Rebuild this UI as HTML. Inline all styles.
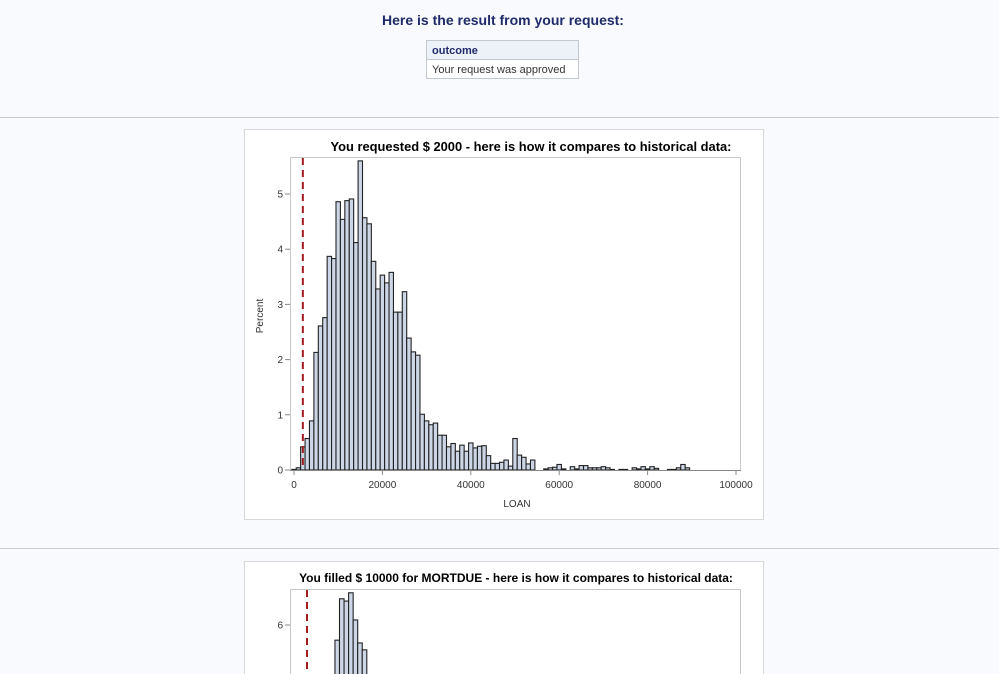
<!DOCTYPE html>
<html><head><meta charset="utf-8"><style>
html,body{margin:0;padding:0;background:#f9fafd;width:999px;height:674px;overflow:hidden;font-family:"Liberation Sans",sans-serif}
svg{display:block;overflow:hidden}
</style></head><body>
<svg width="999" height="674" viewBox="0 0 999 674" xmlns="http://www.w3.org/2000/svg">
<text x="503" y="25" text-anchor="middle" font-size="14" font-weight="bold" fill="#1f2a6b">Here is the result from your request:</text>
<g>
<rect x="426.5" y="40.5" width="152" height="38" fill="#fff" stroke="#c3c7cf"/>
<rect x="427" y="41" width="151" height="18" fill="#edf1f8"/>
<line x1="426.5" y1="59.5" x2="578.5" y2="59.5" stroke="#c3c7cf"/>
<text x="432" y="54" font-size="11" font-weight="bold" fill="#1f2a6b">outcome</text>
<text x="432" y="73" font-size="11" fill="#333">Your request was approved</text>
</g>
<line x1="0" y1="117.5" x2="999" y2="117.5" stroke="#c8cbd2"/>
<line x1="0" y1="548.5" x2="999" y2="548.5" stroke="#c8cbd2"/>
<rect x="244.5" y="129.5" width="519" height="390" fill="#fff" stroke="#d6d8dc"/>
<rect x="244.5" y="561.5" width="519" height="113" fill="#fff" stroke="#d6d8dc"/>
<g id="c1"></g>
<g id="c2"></g>
</svg>
<script>
// Chart 1: LOAN histogram, bins of 1000 centered at i*1000
const loanPercent = [0.01,0.04,0.42,0.57,0.89,2.13,2.61,2.76,3.87,3.83,4.86,4.54,4.88,4.91,4.12,5.6,4.57,4.46,3.78,3.28,3.53,3.39,3.58,2.86,2.86,3.23,2.39,2.14,2.08,1.01,0.89,0.82,0.85,0.63,0.63,0.42,0.48,0.34,0.45,0.34,0.49,0.40,0.43,0.44,0.26,0.12,0.12,0.14,0.18,0.07,0.57,0.27,0.23,0.11,0.18,0,0,0.02,0.04,0.05,0.1,0.02,0,0.06,0.02,0.08,0.08,0.04,0.04,0.04,0.06,0.04,0.01,0,0.01,0.01,0,0.04,0.02,0.06,0.02,0.06,0.03,0,0,0.01,0.01,0.04,0.1,0.04,0,0,0,0,0,0,0,0,0,0];
const loanBinWidth = 1000;
const loanXTicks = [0,20000,40000,60000,80000,100000];
const loanYTicks = [0,1,2,3,4,5];
const loanRequested = 2000;
// Chart 2: MORTDUE (partially visible)
const mortPercent = [5.67,6.57,6.52,6.70,6.11,5.61,5.46];
const mortBinStart = 31500;
const mortBinWidth = 3500;
const mortYTicks = [6];
const mortFilled = 10000;

const NS='http://www.w3.org/2000/svg';
function mk(p,tag,a){const e=document.createElementNS(NS,tag);for(const k in a)e.setAttribute(k,a[k]);p.appendChild(e);return e;}

(function(){
const g=document.getElementById('c1');
const x=v=>294+v*0.00442, y=v=>470-v*55.2;
const t=mk(g,'text',{x:531,y:151,'text-anchor':'middle','font-size':12.9,'font-weight':'bold',fill:'#000'});t.textContent='You requested $ 2000 - here is how it compares to historical data:';


const fr=mk(g,'rect',{x:290.5,y:157.5,width:450,height:313,fill:'none',stroke:'#c8c8c8'});


loanPercent.forEach((v,i)=>{
 const c=i*loanBinWidth;
 const r=mk(g,'rect',{x:x(c-loanBinWidth/2),y:y(v),width:x(loanBinWidth)-x(0),height:y(0)-y(v),fill:'#ccd6e6',stroke:'#222','stroke-width':1.1});
 
 
});
const ax=mk(g,'line',{x1:290,y1:470.5,x2:741,y2:470.5,stroke:'#888'});


loanXTicks.forEach(v=>{
 mk(g,'line',{x1:x(v),y1:470,x2:x(v),y2:475,stroke:'#888'});
 const l=mk(g,'text',{x:x(v),y:488,'text-anchor':'middle','font-size':10,fill:'#333'});l.textContent=v;
 
 
});
loanYTicks.forEach(v=>{
 mk(g,'line',{x1:285,y1:y(v),x2:290,y2:y(v),stroke:'#888'});
 const l=mk(g,'text',{x:283,y:y(v)+3.5,'text-anchor':'end','font-size':10,fill:'#333'});l.textContent=v;
 
 
});
const xl=mk(g,'text',{x:517,y:507,'text-anchor':'middle','font-size':10,fill:'#333'});xl.textContent='LOAN';


const yl=mk(g,'text',{x:0,y:0,'text-anchor':'middle','font-size':10,fill:'#333',transform:'translate(263,316) rotate(-90)'});yl.textContent='Percent';


const rl=mk(g,'line',{x1:x(loanRequested),y1:158,x2:x(loanRequested),y2:470,stroke:'#a51c1c','stroke-width':2,'stroke-dasharray':'7,5'});


})();

(function(){
const g=document.getElementById('c2');
const x=v=>294+v*0.0013, y=v=>901-v*46;
const t=mk(g,'text',{x:516,y:582,'text-anchor':'middle','font-size':12,'font-weight':'bold',fill:'#000'});t.textContent='You filled $ 10000 for MORTDUE - here is how it compares to historical data:';


const fr=mk(g,'rect',{x:290.5,y:589.5,width:450,height:200,fill:'none',stroke:'#c8c8c8'});


mortPercent.forEach((v,i)=>{
 const s=mortBinStart+i*mortBinWidth;
 const r=mk(g,'rect',{x:x(s),y:y(v),width:x(mortBinWidth)-x(0),height:y(0)-y(v),fill:'#ccd6e6',stroke:'#222','stroke-width':1.1});
 
 
});
mortYTicks.forEach(v=>{
 mk(g,'line',{x1:285,y1:y(v),x2:290,y2:y(v),stroke:'#888'});
 const l=mk(g,'text',{x:283,y:y(v)+3.5,'text-anchor':'end','font-size':10,fill:'#333'});l.textContent=v;
 
 
});
const rl=mk(g,'line',{x1:x(mortFilled),y1:590,x2:x(mortFilled),y2:680,stroke:'#a51c1c','stroke-width':2,'stroke-dasharray':'7,5'});


})();
</script>
</body></html>
